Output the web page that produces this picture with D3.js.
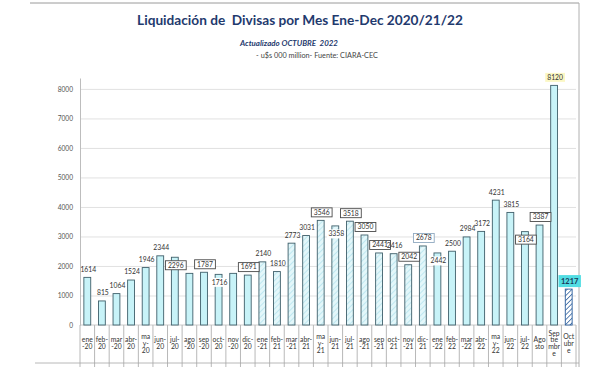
<!DOCTYPE html>
<html><head><meta charset="utf-8">
<script src="https://cdn.jsdelivr.net/npm/d3@7"></script>
<style>body{margin:0;background:#fff}svg{display:block}</style>
</head><body>
<svg id="chart" width="600" height="367"></svg>
<script>
const categories = ["ene-20","feb-20","mar-20","abr-20","may-20","jun-20","jul-20","ago-20","sep-20","oct-20","nov-20","dic-20",
  "ene-21","feb-21","mar-21","abr-21","may-21","jun-21","jul-21","ago-21","sep-21","oct-21","nov-21","dic-21",
  "ene-22","feb-22","mar-22","abr-22","may-22","jun-22","jul-22","ago-22","sep-22","oct-22"];
const tickLabels = [["ene","-20"],["feb-","20"],["mar","-20"],["abr-","20"],["ma","y-","20"],["jun-","20"],["jul-","20"],["ago","-20"],["sep","-20"],["oct-","20"],["nov","-20"],["dic-","20"],
  ["ene","-21"],["feb-","21"],["mar","-21"],["abr-","21"],["ma","y-","21"],["jun-","21"],["jul-","21"],["ago","-21"],["sep","-21"],["oct-","21"],["nov","-21"],["dic-","21"],
  ["ene","-22"],["feb-","22"],["mar","-22"],["abr-","22"],["ma","y-","22"],["jun-","22"],["jul-","22"],["Ago","sto"],["Sep","tie","mbr","e"],["Oct","ubr","e"]];
const values = [1614,815,1064,1524,1946,2344,2296,1750,1787,1716,1750,1691,
  2140,1810,2773,3031,3546,3358,3518,3050,2441,2416,2042,2678,
  2442,2500,2984,3172,4231,3815,3164,3387,8120,1217];
const dataLabels = ["1614","815","1064","1524","1946","2344","2296",null,"1787","1716",null,"1691",
  "2140","1810","2773","3031","3546","3358","3518","3050","2441","2416","2042","2678",
  "2442","2500","2984","3172","4231","3815","3164","3387","8120","1217"];
const yTicks = [0,1000,2000,3000,4000,5000,6000,7000,8000];
const titleText = "Liquidación de  Divisas por Mes Ene-Dec 2020/21/22";
const subtitleText = "Actualizado OCTUBRE  2022";
const sourceText = "- u$s 000 million- Fuente: CIARA-CEC";

// presentation (not data)
const boxed = new Set(["jul-20","sep-20","dic-20","may-21","jul-21","ago-21","sep-21","nov-21","dic-21","jul-22","ago-22"]);
const inside = new Set(["jul-20","oct-20","jun-21","ene-22","jul-22"]);
const FONT = "Lato, 'Open Sans', sans-serif";

const svg = d3.select("#chart");
const x = d3.scaleBand().domain(categories).range([80, 576]).paddingInner(0.53).paddingOuter(0.265);
const y = d3.scaleLinear().domain([0, 8370]).range([325, 78]);

// defs: patterns
const defs = svg.append("defs");
const p1 = defs.append("pattern").attr("id","hatchLight").attr("patternUnits","userSpaceOnUse")
  .attr("width",4).attr("height",4).attr("patternTransform","rotate(45)");
p1.append("rect").attr("width",4).attr("height",4).attr("fill","#e3f7fa");
p1.append("line").attr("x1",0).attr("y1",0).attr("x2",0).attr("y2",4).attr("stroke","#b6e4ee").attr("stroke-width",1.6);
const p2 = defs.append("pattern").attr("id","hatchDark").attr("patternUnits","userSpaceOnUse")
  .attr("width",3.4).attr("height",3.4).attr("patternTransform","rotate(45)");
p2.append("rect").attr("width",3.4).attr("height",3.4).attr("fill","#ffffff");
p2.append("line").attr("x1",0).attr("y1",0).attr("x2",0).attr("y2",3.4).attr("stroke","#2a5d9c").attr("stroke-width",1.5);

// frame
svg.append("line").attr("x1",30).attr("x2",579).attr("y1",3).attr("y2",3).attr("stroke","#9a9a9a").attr("stroke-width",1);
svg.append("line").attr("x1",579).attr("x2",579).attr("y1",3).attr("y2",367).attr("stroke","#b0b0b0").attr("stroke-width",1);

// titles
function fitText(sel, w){ const l = sel.node().getComputedTextLength(); const fs = parseFloat(sel.attr("font-size")); sel.attr("font-size", fs*w/l); }
const t1 = svg.append("text").attr("x",300).attr("y",25).attr("text-anchor","middle").attr("font-family",FONT)
  .attr("font-weight","bold").attr("font-size",17).attr("fill","#1f3a6e").style("white-space","pre").text(titleText);
fitText(t1, 326);
const t2 = svg.append("text").attr("x",289).attr("y",46).attr("text-anchor","middle").attr("font-family",FONT)
  .attr("font-weight","bold").attr("font-style","italic").attr("font-size",9.5).attr("fill","#1f3a6e").style("white-space","pre").text(subtitleText);
fitText(t2, 98);
const t3 = svg.append("text").attr("x",317).attr("y",57.5).attr("text-anchor","middle").attr("font-family",FONT)
  .attr("font-size",9).attr("fill","#444").text(sourceText);
fitText(t3, 122);

// gridlines
const grid = svg.append("g").attr("transform","translate(80,0)")
  .call(d3.axisLeft(y).tickValues(yTicks.slice(1)).tickSize(-496).tickFormat(""));
grid.select(".domain").remove();
grid.selectAll("line").attr("stroke","#d9d9d9").attr("stroke-width",0.8);

// y axis
const yAx = svg.append("g").attr("transform","translate(80,0)")
  .call(d3.axisLeft(y).tickValues(yTicks).tickSize(0).tickPadding(7).tickFormat(d3.format("d")));
yAx.select(".domain").attr("stroke","#bdbdbd");
yAx.selectAll("text").attr("font-family",FONT).attr("font-size",6.6).attr("fill","#555");

// category table
const tbl = svg.append("g");
const bounds = categories.map(c => x(c) - x.step()*x.paddingInner()/2);
bounds.push(576);
tbl.selectAll("line.v").data(bounds).join("line").attr("class","v")
  .attr("x1",d=>d).attr("x2",d=>d).attr("y1",325).attr("y2",367).attr("stroke","#a6a6a6").attr("stroke-width",0.8);
tbl.append("line").attr("x1",35).attr("x2",579).attr("y1",363).attr("y2",363).attr("stroke","#a6a6a6").attr("stroke-width",0.8);
tbl.append("line").attr("x1",80).attr("x2",576).attr("y1",325).attr("y2",325).attr("stroke","#bdbdbd").attr("stroke-width",0.8);
const tl = tbl.selectAll("text.tk").data(categories).join("text").attr("class","tk")
  .attr("text-anchor","middle").attr("font-family",FONT).attr("font-size",6.8).attr("fill","#333");
tl.each(function(c,i){
  const lines = tickLabels[i]; const n = lines.length;
  const cx = x(c) + x.bandwidth()/2;
  d3.select(this).selectAll("tspan").data(lines).join("tspan")
    .attr("x",cx).attr("y",(d,j)=>343.5 - (n-1)*3.4 + j*6.8).attr("dy","0.35em").text(d=>d);
});

// bars
function fillFor(c,i){
  if (i === categories.length-1) return "url(#hatchDark)";
  if (c.endsWith("-21")) return "url(#hatchLight)";
  return "#c8f3f8";
}
svg.append("g").selectAll("rect").data(values).join("rect")
  .attr("x",(d,i)=>x(categories[i])).attr("width",x.bandwidth())
  .attr("y",d=>y(d)).attr("height",d=>y(0)-y(d))
  .attr("fill",(d,i)=>fillFor(categories[i],i))
  .attr("stroke",(d,i)=> i===categories.length-1 ? "#2a5d9c" : "#3f5f6a").attr("stroke-width",0.9);

// data labels
const lg = svg.append("g");
values.forEach((v,i)=>{
  const lab = dataLabels[i]; if (!lab) return;
  const c = categories[i];
  const cx = x(c) + x.bandwidth()/2 + 1;
  const cy = y(v) + (inside.has(c) ? 8 : -8);
  const g = lg.append("g");
  const isLast = i === categories.length-1;
  const isMax = v === d3.max(values);
  const txt = g.append("text").attr("x",cx).attr("y",cy).attr("dy","0.35em").attr("text-anchor","middle")
    .attr("font-family",FONT).attr("font-size", isLast ? 7.5 : 6.8).attr("font-weight", isLast ? "bold" : "normal")
    .attr("fill", isLast ? "#1a3a5a" : "#333").text(lab);
  const w = txt.node().getComputedTextLength();
  let bg = null;
  if (boxed.has(c)) bg = {fill:"#fff", stroke: c==="dic-21" ? "#8fa9c0" : "#4a4a4a", w:w+5, h:9};
  else if (inside.has(c)) bg = {fill:"#fff", stroke:"none", w:w+3, h:9};
  else if (isMax) bg = {fill:"#fbf7c4", stroke:"none", w:w+4, h:9};
  else if (isLast) bg = {fill:"#52dde3", stroke:"none", w:w+5, h:12};
  if (bg) {
    g.insert("rect","text").attr("x",cx-bg.w/2).attr("y",cy-bg.h/2).attr("width",bg.w).attr("height",bg.h)
      .attr("fill",bg.fill).attr("stroke",bg.stroke).attr("stroke-width",0.9);
  }
});
</script>
</body></html>
